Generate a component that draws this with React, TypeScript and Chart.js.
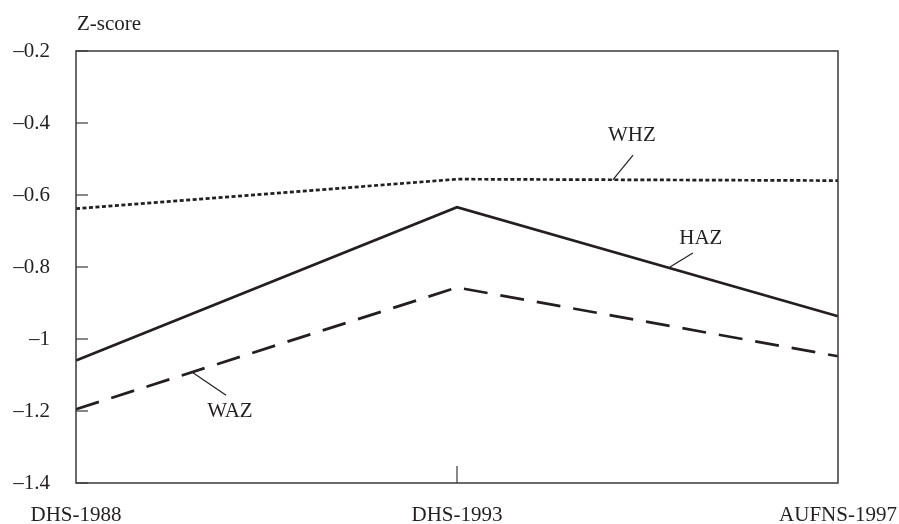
import React, { useEffect, useRef } from "react";
import { Chart, registerables } from "chart.js";

Chart.register(...registerables);

const categories = ["DHS-1988", "DHS-1993", "AUFNS-1997"];
const whz = [-0.638, -0.556, -0.56];
const haz = [-1.06, -0.634, -0.937];
const waz = [-1.195, -0.857, -1.048];
const yTicks = [-0.2, -0.4, -0.6, -0.8, -1, -1.2, -1.4];

// annotation labels in data units
const labelNames = ["WHZ", "HAZ", "WAZ"];
const labelPos = [
  [1.459, -0.435],
  [1.64, -0.72],
  [0.404, -1.2],
];
const leaderFrom = [
  [1.409, -0.558],
  [1.559, -0.8],
  [0.304, -1.092],
];
const leaderTo = [
  [1.462, -0.489],
  [1.619, -0.761],
  [0.394, -1.156],
];

const INK = "#231f20";
const FONT = "'Liberation Serif', 'Times New Roman', serif";
const FS = 21;

const fmt = (v: number) => {
  const s = Math.abs(v).toString();
  return (v < 0 ? "\u2013" : "") + s;
};

const decorPlugin = {
  id: "decor",
  afterDatasetsDraw(chart: any) {
    const { ctx, chartArea } = chart;
    const xs = chart.scales.x;
    const ys = chart.scales.y;
    ctx.save();
    // box
    ctx.strokeStyle = "#3a3a3a";
    ctx.lineWidth = 1.5;
    ctx.strokeRect(chartArea.left, chartArea.top, chartArea.right - chartArea.left, chartArea.bottom - chartArea.top);
    // inward y ticks
    ctx.lineWidth = 1.2;
    yTicks.forEach((v) => {
      const py = ys.getPixelForValue(v);
      ctx.beginPath();
      ctx.moveTo(chartArea.left, py);
      ctx.lineTo(chartArea.left + 12, py);
      ctx.stroke();
    });
    // inward middle x tick
    const mx = xs.getPixelForValue(1);
    ctx.beginPath();
    ctx.moveTo(mx, chartArea.bottom);
    ctx.lineTo(mx, chartArea.bottom - 17);
    ctx.stroke();
    // axis title
    ctx.fillStyle = INK;
    ctx.font = `${FS}px ${FONT}`;
    ctx.textAlign = "left";
    ctx.textBaseline = "middle";
    ctx.fillText("Z-score", chartArea.left + 1, 24);
    // series labels and leader lines
    ctx.strokeStyle = INK;
    ctx.lineWidth = 1.2;
    ctx.textAlign = "center";
    labelNames.forEach((name, i) => {
      ctx.beginPath();
      ctx.moveTo(xs.getPixelForValue(leaderFrom[i][0]), ys.getPixelForValue(leaderFrom[i][1]));
      ctx.lineTo(xs.getPixelForValue(leaderTo[i][0]), ys.getPixelForValue(leaderTo[i][1]));
      ctx.stroke();
      ctx.fillText(name, xs.getPixelForValue(labelPos[i][0]), ys.getPixelForValue(labelPos[i][1]));
    });
    ctx.restore();
  },
};

export default function App() {
  const ref = useRef<HTMLCanvasElement>(null);
  useEffect(() => {
    document.body.style.margin = "0";
    const canvas = ref.current!;
    const line = (data: number[], dash: number[]) => ({
      data,
      borderColor: INK,
      borderWidth: 2.7,
      borderDash: dash,
      pointRadius: 0,
      tension: 0,
      fill: false,
    });
    const chart = new Chart(canvas, {
      type: "line",
      data: {
        labels: categories,
        datasets: [line(whz, [4, 2.5]), line(haz, []), line(waz, [24, 13])],
      },
      plugins: [decorPlugin],
      options: {
        animation: false,
        responsive: false,
        maintainAspectRatio: false,
        layout: { padding: { top: 51, right: 61, left: 0, bottom: 0 } },
        plugins: { legend: { display: false }, tooltip: { enabled: false } },
        scales: {
          x: {
            type: "category",
            offset: false,
            grid: { display: false, drawTicks: false },
            border: { display: false },
            ticks: { color: INK, font: { family: FONT, size: FS }, padding: 20, maxRotation: 0, autoSkip: false },
            afterFit: (s: any) => {
              s.height = 41;
              s.paddingLeft = 0;
              s.paddingRight = 0;
            },
          },
          y: {
            min: -1.4,
            max: -0.2,
            grid: { display: false, drawTicks: false },
            border: { display: false },
            afterBuildTicks: (s: any) => {
              s.ticks = yTicks.map((v) => ({ value: v }));
            },
            ticks: {
              color: INK,
              font: { family: FONT, size: FS },
              padding: 26,
              callback: (v: any) => fmt(Number(v)),
            },
            afterFit: (s: any) => {
              s.width = 76;
              s.paddingTop = 0;
              s.paddingBottom = 0;
            },
          },
        },
      },
    });
    return () => chart.destroy();
  }, []);
  return <canvas ref={ref} width={899} height={524} style={{ display: "block" }} />;
}
